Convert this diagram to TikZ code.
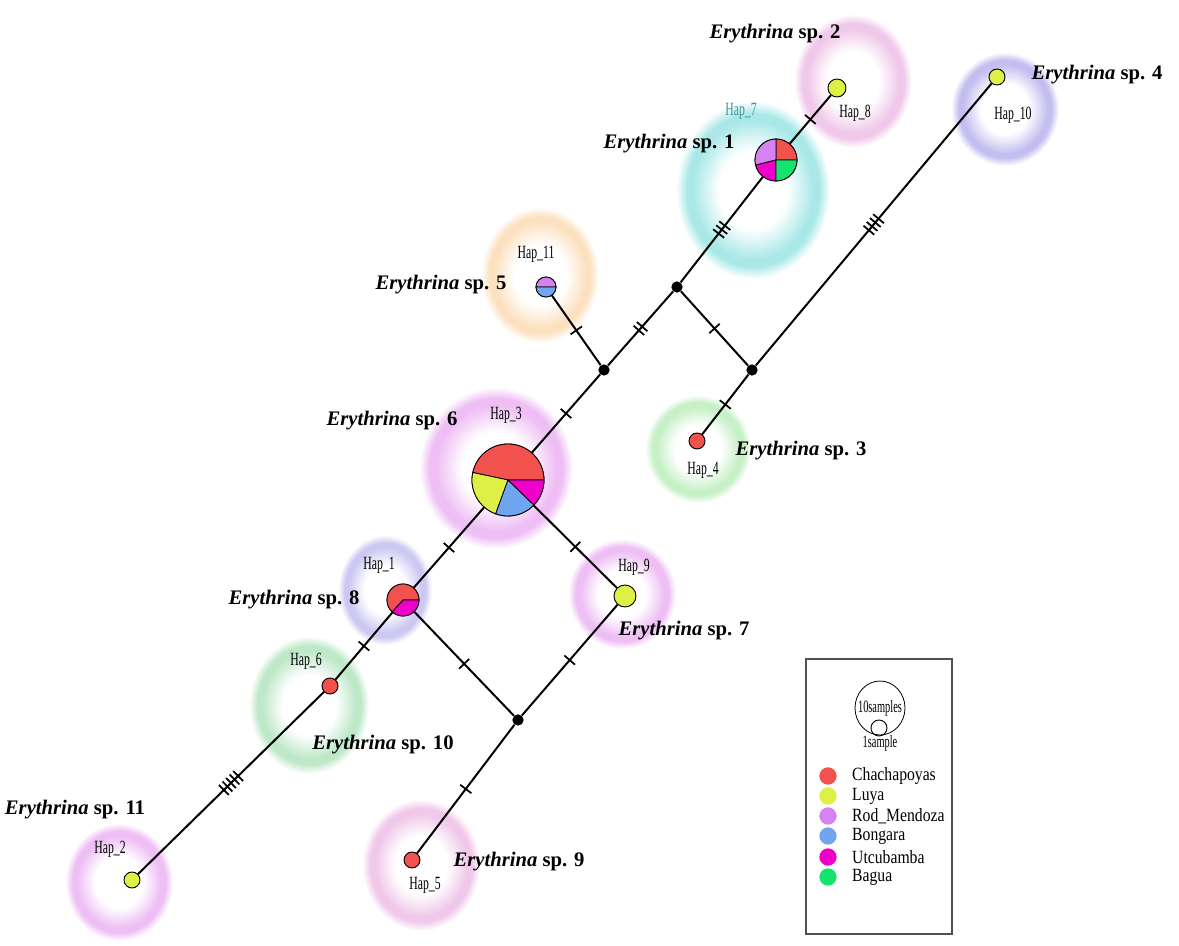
\documentclass[tikz,border=0pt]{standalone}
\usepackage{fontspec}
\setmainfont{Liberation Serif}
\usetikzlibrary{shapes.geometric}
\definecolor{cChach}{RGB}{242,82,78}
\definecolor{cLuya}{RGB}{222,240,70}
\definecolor{cRod}{RGB}{214,130,240}
\definecolor{cBong}{RGB}{112,165,240}
\definecolor{cUtc}{RGB}{238,0,200}
\definecolor{cBag}{RGB}{20,228,110}
\definecolor{hPink}{RGB}{240,200,234}
\definecolor{hViolet}{RGB}{196,190,240}
\definecolor{hCyan}{RGB}{170,232,232}
\definecolor{hOrange}{RGB}{252,225,192}
\definecolor{hPV}{RGB}{238,190,244}
\definecolor{hGreen}{RGB}{198,240,198}
\definecolor{hLav}{RGB}{204,200,242}
\definecolor{hGreen2}{RGB}{190,232,200}
\definecolor{hapteal}{RGB}{60,150,150}
\definecolor{legbord}{RGB}{80,80,80}
\newcommand\mkhalo[2]{\pgfdeclareradialshading{#1}{\pgfpoint{0bp}{0bp}}{color(0bp)=(white); color(11bp)=(white); color(19.5bp)=(#2); color(21.5bp)=(#2); color(25bp)=(white); color(50bp)=(white)}}
\mkhalo{haloPink}{hPink}
\mkhalo{haloViolet}{hViolet}
\mkhalo{haloCyan}{hCyan}
\mkhalo{haloOrange}{hOrange}
\mkhalo{haloPV}{hPV}
\mkhalo{haloGreen}{hGreen}
\mkhalo{haloLav}{hLav}
\mkhalo{haloGreenB}{hGreen2}
\newcommand\pwedge[5]{\fill[#5,draw=black,line width=0.6pt] (#1.center) -- ++(#3:#2) arc[start angle=#3,end angle=#4,radius=#2] -- cycle;}
\begin{document}
\begin{tikzpicture}[x=0.75pt,y=0.75pt,
 hap/.style={circle,draw=black,line width=0.7pt,inner sep=0pt,minimum size=#1},
 jn/.style={circle,fill=black,inner sep=0pt,minimum size=8.5pt},
 edge/.style={line width=1.5pt},
 sp/.style={font=\fontsize{15.5}{18}\selectfont\bfseries, inner sep=0pt},
 hl/.style={font=\fontsize{14}{16}\selectfont, xscale=0.63, inner sep=0pt},
 lg/.style={font=\fontsize{14}{16}\selectfont, xscale=0.84, anchor=west, inner sep=0pt},
 ticks/.pic={\foreach \k in {1,...,#1}{\draw[line width=1.3pt] ({(\k-(#1+1)/2)*5},-7) -- ({(\k-(#1+1)/2)*5},7);}}
]
\useasboundingbox (0,0) rectangle (1179,946);
% halos
\shade[shading=haloCyan] (753,756) ellipse [x radius=77, y radius=89];
\shade[shading=haloPink] (853,865) ellipse [x radius=59, y radius=67];
\shade[shading=haloViolet] (1005,837) ellipse [x radius=54, y radius=57];
\shade[shading=haloOrange] (540,671) ellipse [x radius=59, y radius=68];
\shade[shading=haloPV] (496,478) ellipse [x radius=77, y radius=81];
\shade[shading=haloGreen] (698,497) ellipse [x radius=53, y radius=54];
\shade[shading=haloGreenB] (309,241) ellipse [x radius=60, y radius=69];
\shade[shading=haloLav] (385,356) ellipse [x radius=47, y radius=55];
\shade[shading=haloPV] (622,352) ellipse [x radius=54, y radius=55];
\shade[shading=haloPink] (421,81) ellipse [x radius=59, y radius=66];
\shade[shading=haloPV] (119,64) ellipse [x radius=54, y radius=59];
% haplotype nodes
\node[hap=31.5pt] (h7) at (776,786) {};
\node[hap=13.5pt,fill=cLuya] (h8) at (837,858) {};
\node[hap=12pt,fill=cLuya] (h10) at (997,869) {};
\node[hap=15pt] (h11) at (546,659) {};
\node[jn] (n1) at (677,659) {};
\node[jn] (n2) at (604,576) {};
\node[jn] (n3) at (752,576) {};
\node[hap=12pt,fill=cChach] (h4) at (697,505) {};
\node[hap=54pt] (h3) at (508,466) {};
\node[hap=24pt] (h1) at (403,346) {};
\node[hap=16.5pt,fill=cLuya] (h9) at (625,350) {};
\node[jn] (n4) at (518,226) {};
\node[hap=12pt,fill=cChach] (h6) at (330,260) {};
\node[hap=12pt,fill=cChach] (h5) at (412,86) {};
\node[hap=12pt,fill=cLuya] (h2) at (132,66) {};
% pies
\pwedge{h7}{21}{0}{90}{cChach}
\pwedge{h7}{21}{90}{194}{cRod}
\pwedge{h7}{21}{194}{270}{cUtc}
\pwedge{h7}{21}{270}{360}{cBag}
\pwedge{h3}{36}{0}{168}{cChach}
\pwedge{h3}{36}{168}{250}{cLuya}
\pwedge{h3}{36}{250}{316}{cBong}
\pwedge{h3}{36}{316}{360}{cUtc}
\pwedge{h1}{16}{0}{228}{cChach}
\pwedge{h1}{16}{228}{360}{cUtc}
\pwedge{h11}{10}{0}{180}{cRod}
\pwedge{h11}{10}{180}{360}{cBong}
% edges
\draw[edge] (h8) -- pic[midway,sloped]{ticks=1} (h7);
\draw[edge] (h7) -- pic[midway,sloped]{ticks=3} (n1);
\draw[edge] (n1) -- pic[midway,sloped]{ticks=2} (n2);
\draw[edge] (n1) -- pic[midway,sloped]{ticks=1} (n3);
\draw[edge] (n3) -- pic[midway,sloped]{ticks=4} (h10);
\draw[edge] (n3) -- pic[midway,sloped]{ticks=1} (h4);
\draw[edge] (h11) -- pic[midway,sloped]{ticks=1} (n2);
\draw[edge] (n2) -- pic[midway,sloped]{ticks=1} (h3);
\draw[edge] (h3) -- pic[midway,sloped]{ticks=1} (h1);
\draw[edge] (h3) -- pic[midway,sloped]{ticks=1} (h9);
\draw[edge] (h1) -- pic[midway,sloped]{ticks=1} (n4);
\draw[edge] (h9) -- pic[midway,sloped]{ticks=1} (n4);
\draw[edge] (h1) -- pic[midway,sloped]{ticks=1} (h6);
\draw[edge] (n4) -- pic[midway,sloped]{ticks=1} (h5);
\draw[edge] (h6) -- pic[midway,sloped]{ticks=5} (h2);
% species labels
\node[sp] (s2) at (775,912) {\textit{Erythrina} sp. 2};
\node[sp] (s4) at (1097,871) {\textit{Erythrina} sp. 4};
\node[sp] (s1) at (669,802) {\textit{Erythrina} sp. 1};
\node[sp] (s5) at (441,661) {\textit{Erythrina} sp. 5};
\node[sp] (s6) at (392,525) {\textit{Erythrina} sp. 6};
\node[sp] (s3) at (801,495) {\textit{Erythrina} sp. 3};
\node[sp] (s8) at (294,346) {\textit{Erythrina} sp. 8};
\node[sp] (s7) at (684,315) {\textit{Erythrina} sp. 7};
\node[sp] (s10) at (383,201) {\textit{Erythrina} sp. 10};
\node[sp] (s11) at (75,136) {\textit{Erythrina} sp. 11};
\node[sp] (s9) at (519,84) {\textit{Erythrina} sp. 9};
% hap labels
\node[hl] (l8) at (855,833) {Hap\_8};
\node[hl] (l10) at (1013,831) {Hap\_10};
\node[hl,text=hapteal] (l7) at (741,835) {Hap\_7};
\node[hl] (l11) at (536,692) {Hap\_11};
\node[hl] (l3) at (506,531) {Hap\_3};
\node[hl] (l4) at (703,476) {Hap\_4};
\node[hl] (l1) at (379,381) {Hap\_1};
\node[hl] (l9) at (634,379) {Hap\_9};
\node[hl] (l6) at (306,285) {Hap\_6};
\node[hl] (l2) at (110,97) {Hap\_2};
\node[hl] (l5) at (425,61) {Hap\_5};
% legend
\draw[legbord,line width=1.2pt] (806,287) rectangle (952,12);
\node[draw=black,line width=0.6pt,ellipse,minimum width=37.5pt,minimum height=40.5pt,inner sep=0pt] (big) at (880,238) {};
\node[hap=12pt] (small) at (879,218) {};
\node[font=\fontsize{13}{15}\selectfont, xscale=0.6, inner sep=0pt] (t10) at (880,238) {10samples};
\node[font=\fontsize{13}{15}\selectfont, xscale=0.6, inner sep=0pt] (t1) at (880,203) {1sample};
\node[circle,fill=cChach,inner sep=0pt,minimum size=13pt] (k1) at (828,170) {};
\node[circle,fill=cLuya,inner sep=0pt,minimum size=13pt] (k2) at (828,150) {};
\node[circle,fill=cRod,inner sep=0pt,minimum size=13pt] (k3) at (828,130) {};
\node[circle,fill=cBong,inner sep=0pt,minimum size=13pt] (k4) at (828,110) {};
\node[circle,fill=cUtc,inner sep=0pt,minimum size=13pt] (k5) at (828,89) {};
\node[circle,fill=cBag,inner sep=0pt,minimum size=13pt] (k6) at (828,69) {};
\node[lg] (m1) at (852,170) {Chachapoyas};
\node[lg] (m2) at (852,150) {Luya};
\node[lg] (m3) at (852,130) {Rod\_Mendoza};
\node[lg] (m4) at (852,110) {Bongara};
\node[lg] (m5) at (852,89) {Utcubamba};
\node[lg] (m6) at (852,69) {Bagua};
\end{tikzpicture}
\end{document}
